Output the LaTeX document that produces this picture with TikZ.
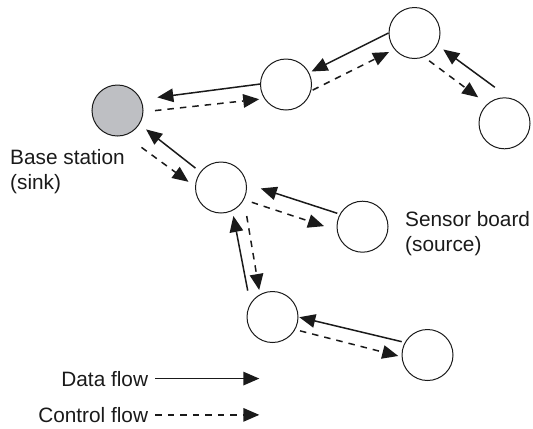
\documentclass[tikz,border=0pt]{standalone}
\usepackage{fontspec}
\setmainfont{Liberation Sans}
\usepackage{tikz}
\usetikzlibrary{arrows.meta,positioning}
\definecolor{Ink}{HTML}{1A1A1A}
\definecolor{SinkGrey}{HTML}{BEBFC3}

\begin{document}
\begin{tikzpicture}[
    x=1bp, y=-1bp,
    mote/.style={
      circle, draw=Ink, line width=1bp, fill=white,
      minimum size=51bp, inner sep=0pt
    },
    tag/.style={
      font=\fontsize{20.8bp}{25bp}\selectfont, text=Ink,
      align=left, inner sep=0pt
    },
    key/.style={tag, inner xsep=7bp},
    data/.style={-{Triangle[length=16bp,width=13.5bp]}, line width=1.5bp, draw=Ink},
    ctrl/.style={data, dash pattern=on 6.5bp off 6bp}
  ]
    \useasboundingbox (0,0) rectangle (533,428);

    % motes of the network
    \node[mote,fill=SinkGrey] (sink) at (117.5,110.5) {};
    \node[mote] (upper)  at (286,84.5) {};
    \node[mote] (crest)  at (414.5,33) {};
    \node[mote] (outer)  at (504.5,123.3) {};
    \node[mote] (fork)   at (221,187.5) {};
    \node[mote] (source) at (362.5,226.7) {};
    \node[mote] (lower)  at (272.5,317) {};
    \node[mote] (leaf)   at (427.5,355) {};

    \node[tag,anchor=north west] (sinktag) at (10,149.5) {Base station\\(sink)};
    \node[tag,anchor=north west] (sourcetag) at (405,211.5) {Sensor board\\(source)};

    % data towards the sink, control back out
    \draw[data, shorten >=16.4bp] (upper.179) -- (sink.25);
    \draw[ctrl, shorten <=11.6bp, shorten >=5bp] (sink.-3) -- (upper.213);
    \draw[data, shorten >=2.7bp] (crest.180) -- (upper.27);
    \draw[ctrl, shorten <=1.6bp, shorten >=5.9bp] (upper.-14) -- (crest.219);
    \draw[data, shorten <=17.6bp, shorten >=7.2bp] (outer.80) -- (crest.-28);
    \draw[ctrl, shorten <=6.1bp, shorten >=11.1bp] (crest.-68) -- (outer.132);
    \draw[data, shorten <=6.1bp, shorten >=8.3bp] (fork.143) -- (sink.-32);
    \draw[ctrl, shorten <=20.3bp, shorten >=8.1bp] (sink.-73) -- (fork.178);
    \draw[data, shorten <=2.6bp, shorten >=14.7bp] (source.151) -- (fork.8);
    \draw[ctrl, shorten <=8.2bp, shorten >=13.4bp] (fork.-28) -- (source.188);
    \draw[data, shorten <=13.2bp, shorten >=5.2bp] (lower.149) -- (fork.-64);
    \draw[ctrl, shorten <=16.5bp, shorten >=4.3bp] (fork.-28) -- (lower.119);
    \draw[data, shorten <=3.1bp, shorten >=0.8bp] (leaf.151) -- (lower.0);
    \draw[ctrl, shorten <=4.9bp, shorten >=3.4bp] (lower.-29) -- (leaf.184);

    % legend
    \node[key,anchor=base east] (datakey) at (155.3,386) {Data flow};
    \node[key,anchor=base east] (ctrlkey) at (155.3,422.3) {Control flow};
    \coordinate[right=104bp of datakey] (datatip);
    \coordinate[right=104bp of ctrlkey] (ctrltip);
    \draw[data] (datakey) -- (datatip);
    \draw[ctrl] (ctrlkey) -- (ctrltip);
  \end{tikzpicture}
\end{document}
